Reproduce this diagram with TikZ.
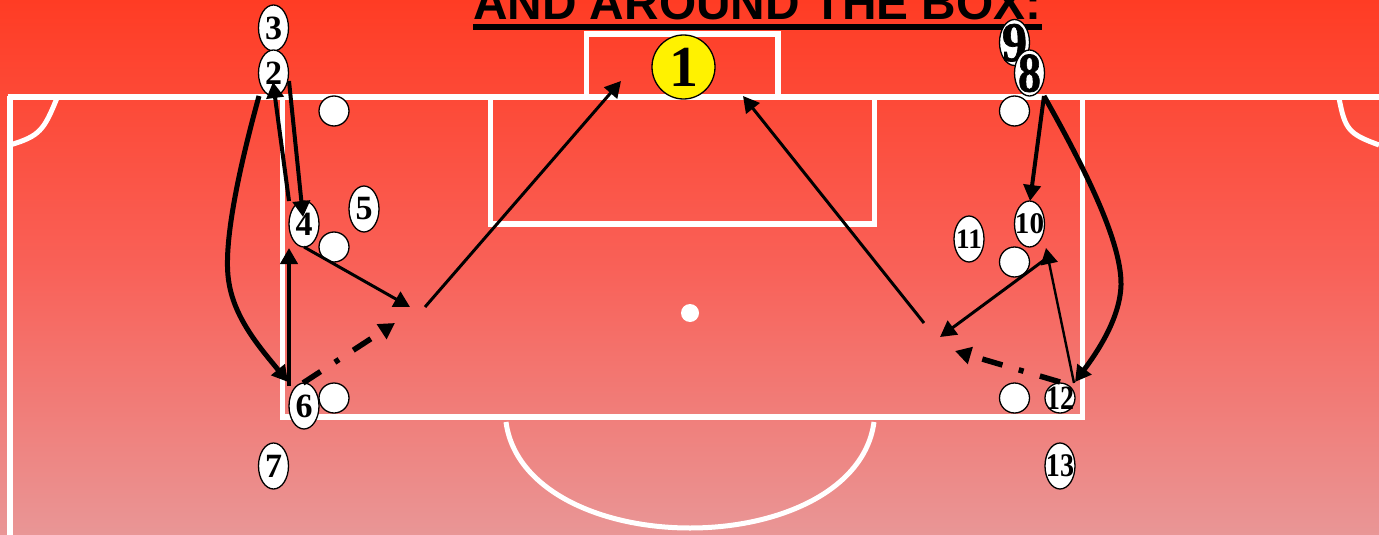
\documentclass[tikz,border=0pt]{standalone}
\usepackage{fontspec}
\setmainfont{Liberation Serif}
\newfontfamily\titlefont{Liberation Sans}
\newfontfamily\heavyfont[FakeBold=1.2]{Liberation Serif Bold}
\usetikzlibrary{shapes.geometric,arrows.meta}
\newcommand{\fs}[1]{\fontsize{#1}{#1}\selectfont\bfseries}
\newcommand{\nar}[2]{\makebox[0pt]{\raisebox{-.5\height}[0pt][0pt]{\scalebox{#1}[1]{#2}}}}
\definecolor{bgtop}{RGB}{255,60,36}
\definecolor{bgmid}{RGB}{249,97,88}
\definecolor{bgbot}{RGB}{233,150,150}
\tikzset{
  x=1pt,y=-1pt,
  pitch/.style={draw=white,line width=5.5pt},
  player/.style={ellipse,draw=black,fill=white,line width=1.3pt,inner sep=0pt,minimum width=30pt,minimum height=46pt,text=black},
  marker/.style={circle,draw=black,fill=white,line width=1.3pt,inner sep=0pt,minimum size=30pt},
  headtip/.style={-{Triangle[length=16pt,width=17pt]}},
  thinrun/.style={headtip,line width=3pt},
  midrun/.style={headtip,line width=4pt},
  bigrun/.style={headtip,line width=5pt},
  ballrun/.style={headtip,line width=5.5pt,dash pattern=on 21pt off 17pt on 5pt off 17pt},
}
\begin{document}
\begin{tikzpicture}
\useasboundingbox (0,0) rectangle (1379,535);
% background
\shade[top color=bgtop,bottom color=bgmid] (0,0) rectangle (1379,268);
\shade[top color=bgmid,bottom color=bgbot] (0,267.5) rectangle (1379,535);
% pitch
\draw[pitch] (7.5,96.8) -- (1379,96.8);
\draw[pitch] (10,96) -- (10,535);
\draw[pitch,line width=5pt] (10,145) .. controls (40,136) and (44,130) .. (57,98);
\draw[pitch,line width=5pt] (1379,145) .. controls (1349,134) and (1345,130) .. (1339,98);
\draw[pitch] (282.5,96) -- (282.5,417) -- (1082.5,417) -- (1082.5,96);
\draw[pitch] (490.5,96) -- (490.5,224) -- (874.5,224) -- (874.5,96);
\draw[pitch] (586.5,96) -- (586.5,34) -- (778,34) -- (778,96);
\draw[pitch,line width=5pt] (506,422) .. controls (515,490) and (600,528) .. (690,528) .. controls (780,528) and (865,490) .. (874,422);
\node[circle,fill=white,inner sep=0pt,minimum size=18pt] (spot) at (690,313) {};
% title
\node[anchor=base west,inner sep=0pt,text=black] (title) at (473,20) {\titlefont\fontsize{47.8}{48}\selectfont\bfseries AND AROUND THE BOX:};
\coordinate (ulA) at (473,27);
\coordinate (ulB) at (1042,27);
\draw[black,line width=6pt] (ulA) -- (ulB);
% markers
\node[marker] (m1) at (334,111) {};
\node[marker] (m2) at (334,247) {};
\node[marker] (m3) at (334,398) {};
\node[marker] (m4) at (1014.5,111) {};
\node[marker] (m5) at (1014.5,262) {};
\node[marker] (m6) at (1014.5,398) {};
% players
\node[player,minimum width=63pt,minimum height=64pt,fill=yellow] (p1) at (683.5,67) {\fs{58}1};
\node[player] (p3) at (273.5,28) {\fs{34}3};
\node[player] (p2) at (273.5,73) {\fs{34}2};
\node[player] (p4) at (304,224) {\fs{34}4};
\node[player] (p5) at (364,209) {\fs{34}5};
\node[player] (p6) at (304,406) {\fs{34}6};
\node[player] (p7) at (273.5,466) {\fs{34}7};
\node[player] (p9) at (1014.5,42.5) {\heavyfont\fontsize{56}{56}\selectfont\nar{.9}{9}};
\node[player] (p8) at (1029.5,73) {\heavyfont\fontsize{56}{56}\selectfont\nar{.82}{8}};
\node[player] (p10) at (1029.5,224) {\fs{30}\nar{.97}{10}};
\node[player] (p11) at (969,239) {\fs{28}\nar{.97}{11}};
\node[player,minimum height=30pt] (p12) at (1060,398) {\fs{34}\nar{.82}{12}};
\node[player] (p13) at (1060,466) {\fs{33}\nar{.85}{13}};
% connector ends
\coordinate (a1) at (259,96);   \coordinate (a2) at (288,382);
\coordinate (b1) at (289,201);  \coordinate (b2) at (273,82);
\coordinate (c1) at (289,81);   \coordinate (c2) at (303,217);
\coordinate (d1) at (289,386);  \coordinate (d2) at (289,248);
\coordinate (e1) at (303,383);  \coordinate (e2) at (395,323);
\coordinate (f1) at (304,247);  \coordinate (f2) at (410,307);
\coordinate (g1) at (425,307);  \coordinate (g2) at (621,81);
\coordinate (h1) at (924,323);  \coordinate (h2) at (743,96);
\coordinate (i1) at (1047,258); \coordinate (i2) at (940,337);
\coordinate (j1) at (1074,383); \coordinate (j2) at (1046,248);
\coordinate (k1) at (1060,382); \coordinate (k2) at (955,351);
\coordinate (l1) at (1044,96);  \coordinate (l2) at (1030,201);
\coordinate (n2) at (1075,382);
% connectors
\draw[bigrun] (a1) .. controls (240,165) and (222,245) .. (229,283) .. controls (235,320) and (262,350) .. (a2);
\draw[midrun] (b1) -- (b2);
\draw[midrun] (c1) -- (c2);
\draw[midrun] (d1) -- (d2);
\draw[ballrun] (e1) -- (e2);
\draw[thinrun] (f1) -- (f2);
\draw[thinrun] (g1) -- (g2);
\draw[thinrun] (h1) -- (h2);
\draw[thinrun] (i1) -- (i2);
\draw[headtip,line width=2.4pt] (j1) -- (j2);
\draw[ballrun] (k1) -- (k2);
\draw[midrun] (l1) -- (l2);
\draw[bigrun] (l1) .. controls (1080,160) and (1122,240) .. (1121,285) .. controls (1120,320) and (1095,355) .. (n2);
\end{tikzpicture}
\end{document}
